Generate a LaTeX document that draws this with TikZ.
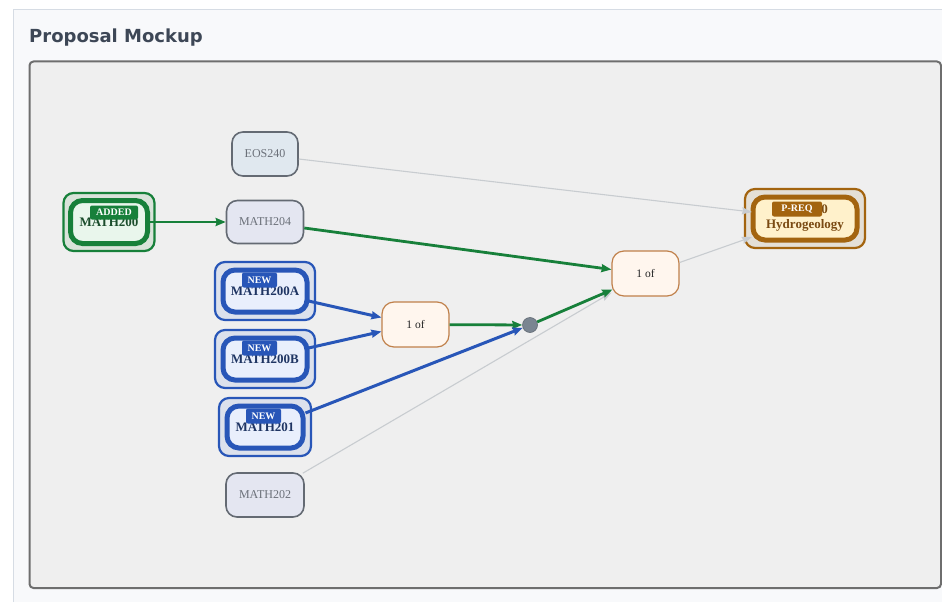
\documentclass[tikz,border=0pt]{standalone}
\usepackage{fontspec}
\setmainfont{Liberation Serif}
\newfontfamily\titlefont{DejaVu Sans}
\usetikzlibrary{arrows.meta,calc}
\definecolor{panelbg}{HTML}{F8F9FB}
\definecolor{panelbd}{HTML}{D6DCE4}
\definecolor{titlec}{HTML}{3D4756}
\definecolor{canvasbg}{HTML}{EFEFEF}
\definecolor{canvasbd}{HTML}{6E6E6E}
\definecolor{plainbd}{HTML}{646A73}
\definecolor{plaintx}{HTML}{6B7079}
\definecolor{eosfill}{HTML}{E0E8EF}
\definecolor{mathfill}{HTML}{E4E6F1}
\definecolor{grn}{HTML}{17803A}
\definecolor{grnouter}{HTML}{D9E3DA}
\definecolor{grnfill}{HTML}{E9F6EC}
\definecolor{grntx}{HTML}{1B4D2C}
\definecolor{blu}{HTML}{2856B8}
\definecolor{bluouter}{HTML}{DCE1EC}
\definecolor{blufill}{HTML}{E9EFFC}
\definecolor{blutx}{HTML}{1F3563}
\definecolor{orbd}{HTML}{C0804A}
\definecolor{orfill}{HTML}{FFF6EE}
\definecolor{brn}{HTML}{A3640F}
\definecolor{brnouter}{HTML}{E4DFD6}
\definecolor{brnfill}{HTML}{FFF1CB}
\definecolor{brntx}{HTML}{7A4A12}
\definecolor{dotc}{HTML}{7A8591}
\definecolor{grayedge}{HTML}{C8CCD0}
\begin{document}
\begin{tikzpicture}[x=1pt,y=-1pt,
  plainnode/.style={draw=plainbd,line width=1.6pt,rounded corners=11pt,text=plaintx,font=\fontsize{12}{14}\selectfont,inner sep=0pt},
  ornode/.style={draw=orbd,line width=1.2pt,fill=orfill,rounded corners=12pt,minimum width=67pt,minimum height=45pt,font=\fontsize{11.5}{13}\selectfont,text=black!85,inner sep=0pt},
  outerring/.style={line width=2.2pt,rounded corners=10pt,inner sep=0pt},
  innerring/.style={line width=5pt,rounded corners=12pt,inner sep=0pt,font=\bfseries\fontsize{13}{15}\selectfont},
  badge/.style={rounded corners=2pt,inner sep=0pt,text=white,font=\bfseries\fontsize{10}{11}\selectfont},
  gedge/.style={draw=grn,line width=2.8pt,-{Stealth[length=10pt,width=8pt,inset=1pt]}},
  bedge/.style={draw=blu,line width=3pt,-{Stealth[length=10pt,width=8pt,inset=1pt]}},
  xedge/.style={draw=grayedge,line width=1.1pt,-{Stealth[length=10pt,width=7pt,inset=1pt]}}
]
\useasboundingbox (0,0) rectangle (942,602);
\fill[white] (0,0) rectangle (942,602);
\draw[panelbd,fill=panelbg,line width=1.5pt] (13.5,9.5) rectangle (960,620);
\node[anchor=base west,text=titlec,font=\titlefont\bfseries\fontsize{18}{20}\selectfont,inner sep=0pt] (title) at (29,43) {Proposal Mockup};
\draw[canvasbd,fill=canvasbg,line width=2pt,rounded corners=4pt] (29.5,61.5) rectangle (941,588);

% plain course nodes
\node[plainnode,fill=eosfill,minimum width=66pt,minimum height=44pt] (eos240) at (265,154) {EOS240};
\node[plainnode,fill=mathfill,minimum width=77pt,minimum height=43pt] (m204) at (265,222) {MATH204};
\node[plainnode,fill=mathfill,minimum width=78pt,minimum height=44pt] (m202) at (265,495) {MATH202};

% MATH200 (added)
\node[outerring,draw=grn,fill=grnouter,minimum width=91pt,minimum height=58pt] (m200o) at (109,222) {};
\node[innerring,draw=grn,fill=grnfill,text=grntx,minimum width=77pt,minimum height=43pt] (m200) at (109,222) {MATH200};
\node[badge,fill=grn,minimum width=48pt,minimum height=14pt] (b200) at (114,212.5) {ADDED};

% MATH200A
\node[outerring,draw=blu,fill=bluouter,minimum width=100pt,minimum height=58pt] (m200ao) at (265,291) {};
\node[innerring,draw=blu,fill=blufill,text=blutx,minimum width=84pt,minimum height=42pt] (m200a) at (265,291) {MATH200A};
\node[badge,fill=blu,minimum width=35pt,minimum height=15pt] (b200a) at (259.5,280) {NEW};

% MATH200B
\node[outerring,draw=blu,fill=bluouter,minimum width=100pt,minimum height=58pt] (m200bo) at (265,359) {};
\node[innerring,draw=blu,fill=blufill,text=blutx,minimum width=84pt,minimum height=42pt] (m200b) at (265,359) {MATH200B};
\node[badge,fill=blu,minimum width=35pt,minimum height=15pt] (b200b) at (259.5,348) {NEW};

% MATH201
\node[outerring,draw=blu,fill=bluouter,minimum width=92pt,minimum height=58pt] (m201o) at (265,427) {};
\node[innerring,draw=blu,fill=blufill,text=blutx,minimum width=76pt,minimum height=42pt] (m201) at (265,427) {MATH201};
\node[badge,fill=blu,minimum width=35pt,minimum height=15pt] (b201) at (263.5,416) {NEW};

% target
\node[outerring,draw=brn,fill=brnouter,minimum width=120pt,minimum height=59pt] (tgto) at (805,218.5) {};
\node[innerring,draw=brn,fill=brnfill,text=brntx,minimum width=104pt,minimum height=43pt,align=center,font=\bfseries\fontsize{13}{15}\selectfont] (tgt) at (805,218.5) {EOS330\\Hydrogeology};
\node[badge,fill=brn,minimum width=50pt,minimum height=15pt] (btgt) at (797,209) {P-REQ};

% 1 of nodes and dot
\node[ornode] (or1) at (415.5,324.5) {1 of};
\node[ornode] (or2) at (645.5,273.5) {1 of};
\node[circle,fill=dotc,draw=dotc!80!black,line width=0.6pt,minimum size=15pt,inner sep=0pt] (dot) at (530,325) {};

% connector end points
\coordinate (e1) at ($(eos240.east)+(0,5)$);
\coordinate (e1t) at (752,212);
\coordinate (e2) at ($(m202.north east)+(-2,1)$);
\coordinate (e2t) at ($(or2.south west)+(0,-4)$);
\coordinate (e3) at ($(or2.east)+(0,-11)$);
\coordinate (e3t) at (752,237);
\coordinate (g1) at ($(m204.east)+(0,6)$);
\coordinate (g1t) at ($(or2.west)+(0,-4)$);
\coordinate (g2t) at ($(or2.south west)+(1,-7)$);
\coordinate (b1) at ($(m200a.east)+(-1,10)$);
\coordinate (b1t) at ($(or1.west)+(0,-7)$);
\coordinate (b2) at ($(m200b.east)+(-1,-11)$);
\coordinate (b2t) at ($(or1.west)+(0,7)$);
\coordinate (b3) at ($(m201.east)+(0,-14)$);

% edges
\draw[xedge] (e1) -- (e1t);
\draw[xedge] (e2) -- (e2t);
\draw[xedge] (e3) -- (e3t);
\draw[gedge] (m200) -- (m204);
\draw[gedge] (g1) -- (g1t);
\draw[gedge] (or1) -- (dot);
\draw[gedge] (dot) -- (g2t);
\draw[bedge] (b1) -- (b1t);
\draw[bedge] (b2) -- (b2t);
\draw[bedge] (b3) -- (dot);
\end{tikzpicture}
\end{document}
